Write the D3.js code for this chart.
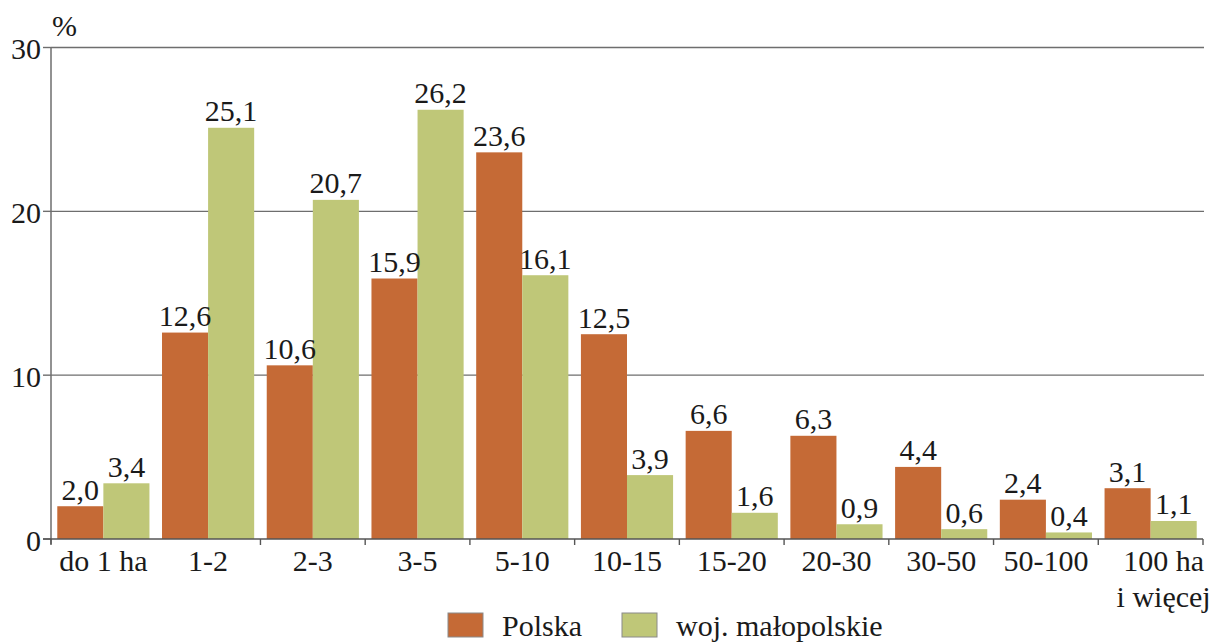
<!DOCTYPE html>
<html><head><meta charset="utf-8">
<script src="https://cdn.jsdelivr.net/npm/d3@7"></script>
</head>
<body style="margin:0"><svg id="c" width="1217" height="642" style="font-family:'Tinos','Liberation Serif','FreeSerif',serif"></svg>
<script>
const categories = ["do 1 ha","1-2","2-3","3-5","5-10","10-15","15-20","20-30","30-50","50-100","100 ha\ni więcej"];
const polska = [2.0,12.6,10.6,15.9,23.6,12.5,6.6,6.3,4.4,2.4,3.1];
const malopolskie = [3.4,25.1,20.7,26.2,16.1,3.9,1.6,0.9,0.6,0.4,1.1];
const seriesNames = ["Polska","woj. małopolskie"];
const yTicks = [0,10,20,30];

const colors = ["#c56a36","#bfc778"];
const svg = d3.select("#c");
const pLeft = 51, pRight = 1203, pTop = 47.5, pBottom = 539;
const fs = 30;
function styleText(sel){
  return sel.attr("font-size", fs).style("font-family", d=>`'Tinos'`).attr("fill","#1a1a1a");
}

const x0 = d3.scaleBand().domain(categories).range([pLeft, pRight]).paddingInner(0.12).paddingOuter(0.06);
const x1 = d3.scaleBand().domain(seriesNames).range([0, x0.bandwidth()]);
const y = d3.scaleLinear().domain([0,30]).range([pBottom, pTop]);

// gridlines
svg.append("g").selectAll("line").data(yTicks.filter(d=>d>0)).join("line")
  .attr("x1", pLeft).attr("x2", pRight+1).attr("y1", d=>y(d)).attr("y2", d=>y(d))
  .attr("stroke","#6e6e6e").attr("stroke-width",1.4);

// y axis ticks and labels
const ya = svg.append("g");
ya.selectAll("line").data(yTicks).join("line")
  .attr("x1", pLeft-8).attr("x2", pLeft).attr("y1", d=>y(d)).attr("y2", d=>y(d))
  .attr("stroke","#6e6e6e").attr("stroke-width",1.4);
styleText(ya.selectAll("text").data(yTicks).join("text")
  .attr("x", pLeft-10).attr("y", d=>y(d)+11.5).attr("text-anchor","end")).text(d=>d);
styleText(svg.append("text").datum("%").attr("x",52).attr("y",36)).text("%");

// bars
const data = categories.map((c,i)=>({c, vals:[polska[i], malopolskie[i]]}));
const groups = svg.append("g").selectAll("g").data(data).join("g")
  .attr("transform", d=>`translate(${x0(d.c)},0)`);
groups.selectAll("rect").data(d=>d.vals.map((v,j)=>({v, s:seriesNames[j], j}))).join("rect")
  .attr("x", d=>x1(d.s)).attr("width", x1.bandwidth())
  .attr("y", d=>y(d.v)).attr("height", d=>y(0)-y(d.v))
  .attr("fill", d=>colors[d.j]);
styleText(groups.selectAll("text").data(d=>d.vals.map((v,j)=>({v, s:seriesNames[j], j}))).join("text")
  .attr("x", d=>x1(d.s)+x1.bandwidth()/2).attr("y", d=>y(d.v)-6.5)
  .attr("text-anchor","middle"))
  .text(d=>d.v.toFixed(1).replace(".",","));

// y axis line
svg.append("line").attr("x1",pLeft).attr("x2",pLeft).attr("y1",pTop).attr("y2",pBottom+5)
  .attr("stroke","#6e6e6e").attr("stroke-width",1.5);
// x axis line
svg.append("line").attr("x1",pLeft-8).attr("x2",pRight).attr("y1",pBottom).attr("y2",pBottom)
  .attr("stroke","#555").attr("stroke-width",1.6);
// x ticks at band boundaries
const step = x0.step();
const bounds = d3.range(categories.length+1).map(i=>pLeft + i*step).filter((b,i)=>i!==1);
svg.append("g").selectAll("line").data(bounds).join("line")
  .attr("x1",d=>d).attr("x2",d=>d).attr("y1",pBottom).attr("y2",pBottom+6)
  .attr("stroke","#555").attr("stroke-width",1.4);

// x labels
const xl = styleText(svg.append("g").selectAll("text").data(categories).join("text")
  .attr("x", (d,i)=> x0(d)+x0.bandwidth()/2 + (i===categories.length-1?13:0))
  .attr("y", 571).attr("text-anchor","middle"));
xl.each(function(d){
  const lines = d.split("\n");
  const t = d3.select(this);
  lines.forEach((ln,k)=>{
    t.append("tspan").attr("x", t.attr("x")).attr("dy", k===0?0:35.5).text(ln);
  });
});

// legend
const leg = svg.append("g");
const legItems = [{n:seriesNames[0], x:448, tx:502},{n:seriesNames[1], x:622, tx:676}];
leg.selectAll("rect").data(legItems).join("rect")
  .attr("x",d=>d.x).attr("y",613).attr("width",35).attr("height",24)
  .attr("fill",(d,i)=>colors[i]).attr("stroke","#8a8a8a").attr("stroke-width",1);
styleText(leg.selectAll("text").data(legItems).join("text")
  .attr("x",d=>d.tx).attr("y",636)).text(d=>d.n);
</script></body></html>
